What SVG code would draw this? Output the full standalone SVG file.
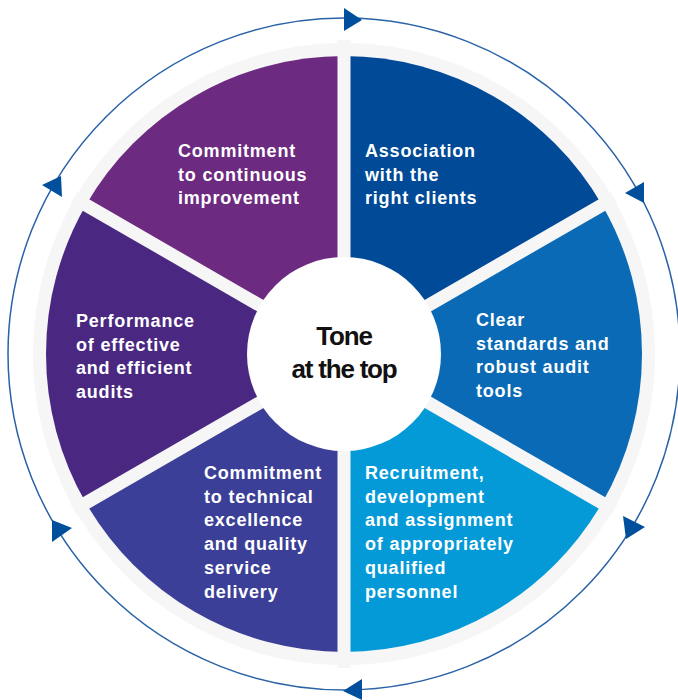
<svg xmlns="http://www.w3.org/2000/svg" width="678" height="700" viewBox="0 0 678 700">
  <style>
    .seg { stroke: none; }
    .lbl { font-family: "Liberation Sans", Arial, sans-serif; font-weight: bold; font-size: 18px; letter-spacing: 0.8px; fill: #ffffff; }
    .hub { font-family: "Liberation Sans", Arial, sans-serif; font-weight: bold; font-size: 26px; letter-spacing: -1.2px; fill: #111111; text-anchor: middle; }
    .ring { fill: none; stroke: #2a62a8; stroke-width: 1.5; }
    .head { fill: #004f9c; }
    .gap { stroke: #f6f6f6; stroke-width: 13; }
  </style>
  <rect width="678" height="700" fill="#ffffff"/>
  <circle cx="344" cy="354" r="311" fill="#f6f6f6"/>

  <g id="node-continuous-improvement">
    <path class="seg" fill="#6c2a81" d="M344,354 L85.93,205 A298,298 0 0 1 344,56 Z"/>
    <text class="lbl"><tspan x="178" y="157">Commitment</tspan><tspan x="178" y="180.7">to continuous</tspan><tspan x="178" y="204.4">improvement</tspan></text>
  </g>
  <g id="node-right-clients">
    <path class="seg" fill="#004a97" d="M344,354 L344,56 A298,298 0 0 1 602.07,205 Z"/>
    <text class="lbl"><tspan x="365" y="157">Association</tspan><tspan x="365" y="180.7">with the</tspan><tspan x="365" y="204.4">right clients</tspan></text>
  </g>
  <g id="node-standards-tools">
    <path class="seg" fill="#0a6ab5" d="M344,354 L602.07,205 A298,298 0 0 1 602.07,503 Z"/>
    <text class="lbl"><tspan x="476" y="326">Clear</tspan><tspan x="476" y="349.7">standards and</tspan><tspan x="476" y="373.4">robust audit</tspan><tspan x="476" y="397.1">tools</tspan></text>
  </g>
  <g id="node-recruitment">
    <path class="seg" fill="#049ad8" d="M344,354 L602.07,503 A298,298 0 0 1 344,652 Z"/>
    <text class="lbl"><tspan x="365" y="479">Recruitment,</tspan><tspan x="365" y="502.7">development</tspan><tspan x="365" y="526.4">and assignment</tspan><tspan x="365" y="550.1">of appropriately</tspan><tspan x="365" y="573.8">qualified</tspan><tspan x="365" y="597.5">personnel</tspan></text>
  </g>
  <g id="node-technical-excellence">
    <path class="seg" fill="#3b3f97" d="M344,354 L344,652 A298,298 0 0 1 85.93,503 Z"/>
    <text class="lbl"><tspan x="204" y="479">Commitment</tspan><tspan x="204" y="502.7">to technical</tspan><tspan x="204" y="526.4">excellence</tspan><tspan x="204" y="550.1">and quality</tspan><tspan x="204" y="573.8">service</tspan><tspan x="204" y="597.5">delivery</tspan></text>
  </g>
  <g id="node-effective-audits">
    <path class="seg" fill="#4a2882" d="M344,354 L85.93,503 A298,298 0 0 1 85.93,205 Z"/>
    <text class="lbl"><tspan x="76" y="327">Performance</tspan><tspan x="76" y="350.7">of effective</tspan><tspan x="76" y="374.4">and efficient</tspan><tspan x="76" y="398.1">audits</tspan></text>
  </g>

  <g id="gaps">
    <line class="gap" x1="344" y1="40" x2="344" y2="668"/>
    <line class="gap" x1="73.8" y1="198" x2="614.2" y2="510"/>
    <line class="gap" x1="73.8" y1="510" x2="614.2" y2="198"/>
  </g>

  <g id="node-tone-at-the-top">
    <circle cx="344" cy="354" r="97" fill="#ffffff"/>
    <text class="hub"><tspan x="344" y="345">Tone</tspan><tspan x="344" y="378">at the top</tspan></text>
  </g>

  <g id="connectors">
    <circle class="ring" cx="344" cy="354" r="336"/>
    <polygon class="head" points="344,8 362,20 344,31"/>
    <polygon class="head" points="625,193 644,182 644,203"/>
    <polygon class="head" points="623,516 645,527 626,539"/>
    <polygon class="head" points="343,691 362,679 362,700"/>
    <polygon class="head" points="52,520 72,528 52,542"/>
    <polygon class="head" points="42,185 61,176 62,197"/>
  </g>
</svg>
